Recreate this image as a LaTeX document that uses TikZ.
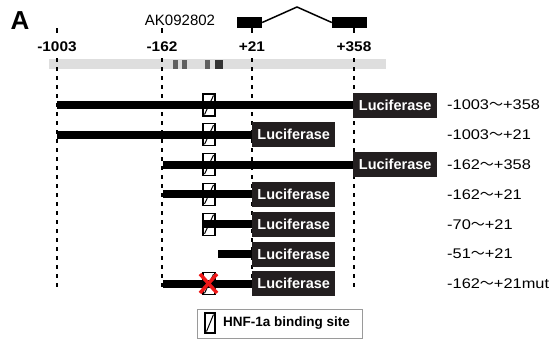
\documentclass[tikz,border=0pt]{standalone}
\usepackage{fontspec}
\setmainfont{Liberation Sans}
\newfontfamily\cjkfont{Noto Sans CJK SC}
\newfontfamily\widefont[FakeStretch=1.17]{Liberation Sans}
\newfontfamily\widebold[FakeStretch=1.1]{Liberation Sans Bold}
\definecolor{lucfill}{HTML}{231F20}
\definecolor{bargray}{HTML}{DEDEDE}
\definecolor{markgray}{HTML}{606060}
\definecolor{markdark}{HTML}{333333}
\definecolor{legendgray}{HTML}{9A9A9A}
\definecolor{xred}{HTML}{F01818}
\newcommand{\tld}{{\cjkfont ～}}
\begin{document}
\begin{tikzpicture}[x=1pt,y=-1pt,
  vdash/.style={line width=1.6pt, dash pattern=on 4pt off 5pt},
  dnabar/.style={line width=8pt},
  lucbox/.style={fill=lucfill, text=white, font=\fontsize{14.5}{15}\selectfont\bfseries,
     minimum height=25pt, inner sep=0pt, anchor=west},
  longbox/.style={lucbox, minimum width=84pt},
  shortbox/.style={lucbox, minimum width=83pt},
  hnfbox/.style={draw, fill=white, line width=1.2pt, minimum width=12pt, minimum height=22pt,
     inner sep=0pt,
     path picture={\draw[line width=1pt] ([shift={(1.5pt,1.5pt)}]path picture bounding box.south west)
        -- ([shift={(-1.5pt,-1.5pt)}]path picture bounding box.north east);}},
  exon/.style={fill=black, minimum height=11pt, inner sep=0pt},
  poslab/.style={font=\fontsize{14}{15}\selectfont\widebold},
  rowlab/.style={anchor=west, font=\fontsize{14}{15}\selectfont\widefont, inner sep=0pt},
  redx/.style={xred, line width=3.5pt}
]
\useasboundingbox (0,0) rectangle (557,340);

% panel letter
\node[font=\fontsize{26}{28}\selectfont\bfseries] (panelA) at (20,21) {A};

% gene name and exons
\node[font=\fontsize{15}{16}\selectfont] (gene) at (180,20) {AK092802};
\node[exon, minimum width=25pt] (ex1) at (249.5,22.5) {};
\node[exon, minimum width=35pt] (ex2) at (349.5,22.5) {};
\coordinate (peak) at (297,7);
\draw[line width=1.5pt] (ex1.east) -- (peak) -- (ex2.west);

% promoter bar
\fill[bargray] (49,59) rectangle (386,69);
\fill[markgray] (173,60) rectangle (178,69);
\fill[markgray] (182,60) rectangle (187,69);
\fill[markgray] (205,60) rectangle (210,69);
\fill[markdark] (215,60) rectangle (223,69);

% position labels and dashed lines
\foreach \x/\t/\n in {57/-1003/a, 162/-162/b, 252/+21/c, 354/+358/d}{
  \node[poslab] (lab\n) at (\x,47) {\t};
  \coordinate (tt\n) at (\x,28);
  \coordinate (tb\n) at (\x,33);
  \coordinate (lt\n) at (\x,58);
  \coordinate (lb\n) at (\x,290);
  \draw[line width=1.6pt] (tt\n) -- (tb\n);
  \draw[vdash] (lt\n) -- (lb\n);
}

% rows
% row 1
\node[hnfbox] (h1) at (209,105) {};
\node[longbox] (l1) at (353,105) {Luciferase};
\coordinate (s1) at (57,105);
\draw[dnabar] (s1) -- (l1.west);
% row 2
\node[hnfbox] (h2) at (209,134.8) {};
\node[shortbox] (l2) at (252,134.8) {Luciferase};
\coordinate (s2) at (57,134.8);
\draw[dnabar] (s2) -- (l2.west);
% row 3
\node[hnfbox] (h3) at (209,164.6) {};
\node[longbox] (l3) at (353,164.6) {Luciferase};
\coordinate (s3) at (163,164.6);
\draw[dnabar] (s3) -- (l3.west);
% row 4
\node[hnfbox] (h4) at (209,194.4) {};
\node[shortbox] (l4) at (252,194.4) {Luciferase};
\coordinate (s4) at (163,194.4);
\draw[dnabar] (s4) -- (l4.west);
% row 5
\node[hnfbox] (h5) at (209,224.2) {};
\node[shortbox] (l5) at (252,224.2) {Luciferase};
\draw[dnabar] (h5.west) -- (l5.west);
% row 6
\node[shortbox] (l6) at (252,254) {Luciferase};
\coordinate (s6) at (218,254);
\draw[dnabar] (s6) -- (l6.west);
% row 7
\node[hnfbox] (h7) at (209,283.8) {};
\node[shortbox] (l7) at (252,283.8) {Luciferase};
\coordinate (s7) at (163,283.8);
\draw[dnabar] (s7) -- (l7.west);
\draw[redx] (200,274) -- (217,293);
\draw[redx] (200,293) -- (217,274);

% row labels
\node[rowlab] (r1) at (447,105) {-1003\tld+358};
\node[rowlab] (r2) at (447,134.8) {-1003\tld+21};
\node[rowlab] (r3) at (447,164.6) {-162\tld+358};
\node[rowlab] (r4) at (447,194.4) {-162\tld+21};
\node[rowlab] (r5) at (447,224.2) {-70\tld+21};
\node[rowlab] (r6) at (447,254) {-51\tld+21};
\node[rowlab] (r7) at (447,283.8) {-162\tld+21mut};

% legend
\node[draw=legendgray, line width=1pt, minimum width=165pt, minimum height=29pt] (legend) at (279.5,323.5) {};
\node[hnfbox, minimum width=10pt, minimum height=20pt] (legsym) at (210,323) {};
\node[anchor=west, font=\fontsize{13.5}{14}\selectfont\bfseries, inner sep=0pt] (legtext) at (223,323.5) {HNF-1a binding site};
\end{tikzpicture}
\end{document}
